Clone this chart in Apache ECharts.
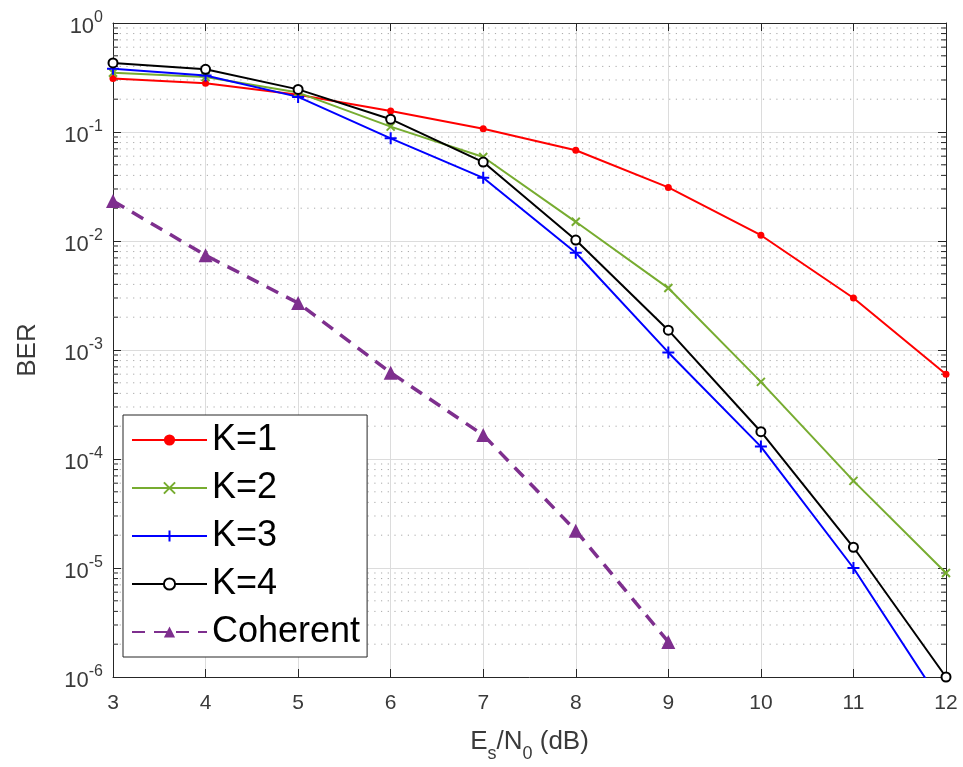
<!DOCTYPE html>
<html>
<head>
<meta charset="utf-8">
<script src="https://cdn.jsdelivr.net/npm/echarts@6/dist/echarts.min.js"></script>
<style>html,body{margin:0;padding:0;background:#fff}#c{width:963px;height:767px}</style>
</head>
<body>
<div id="c"></div>
<script>
// ---- data ----
const xValues = [3, 4, 5, 6, 7, 8, 9, 10, 11, 12];
const berK1 = [0.31, 0.28, 0.22, 0.156, 0.107, 0.068, 0.031, 0.0113, 0.0030, 6.0e-4];
const berK2 = [0.35, 0.32, 0.23, 0.112, 0.059, 0.015, 0.0037, 5.1e-4, 6.3e-5, 9.0e-6];
const berK3 = [0.38, 0.33, 0.21, 0.0875, 0.038, 0.0078, 9.5e-4, 1.3e-4, 1.0e-5, 5.0e-7];
const berK4 = [0.43, 0.376, 0.246, 0.131, 0.053, 0.0102, 1.52e-3, 1.78e-4, 1.55e-5, 1.0e-6];
const coherentX = [3, 4, 5, 6, 7, 8, 9];
const berCoherent = [0.0233, 0.0074, 0.0027, 6.2e-4, 1.66e-4, 2.2e-5, 2.1e-6];
const seriesNames = ['K=1', 'K=2', 'K=3', 'K=4', 'Coherent'];
const xTicks = [3, 4, 5, 6, 7, 8, 9, 10, 11, 12];
const yDecadeExponents = [-6, -5, -4, -3, -2, -1, 0];

// minor grid positions (2..9 x 10^n)
const minorVals = [];
for (let i = 0; i < yDecadeExponents.length - 1; i++) {
  for (let m = 2; m <= 9; m++) minorVals.push([m * Math.pow(10, yDecadeExponents[i])]);
}

function pairs(xs, ys) { return xs.map((x, i) => [x, ys[i]]); }

const AX = '#262626';
const LBL = '#3a3a3a';
const FONT = '"Liberation Sans", Arial, Helvetica, sans-serif';

const chart = echarts.init(document.getElementById('c'), null, { renderer: 'canvas' });

const lineBase = { type: 'line', xAxisIndex: 0, yAxisIndex: 0, clip: true, z: 5 };

const option = {
  backgroundColor: '#fff',
  animation: false,
  textStyle: { fontFamily: FONT },
  grid: { left: 113, right: 17, top: 23, bottom: 90, containLabel: false, outerBoundsMode: 'none' },
  legend: {
    data: seriesNames,
    orient: 'vertical',
    left: 123, top: 415,
    itemWidth: 75, itemHeight: 14, itemGap: 8,
    padding: [5, 7, 5, 8],
    borderColor: AX, borderWidth: 1, backgroundColor: '#fff',
    textStyle: { fontSize: 36, color: '#000', fontFamily: FONT, lineHeight: 40 },
    z: 20
  },
  xAxis: [{
    type: 'value', min: 3, max: 12, interval: 1, position: 'bottom',
    name: '{n|E}{sub|s}{n|/N}{sub|0}{n| (dB)}',
    nameLocation: 'middle', nameGap: 52,
    nameTextStyle: { rich: {
      n: { fontSize: 26, color: LBL, fontFamily: FONT },
      sub: { fontSize: 18, color: LBL, fontFamily: FONT, verticalAlign: 'bottom', padding: [0, 0, -8, 0] }
    } },
    axisLine: { show: true, onZero: false, lineStyle: { color: AX, width: 1 } },
    axisTick: { show: true, inside: true, length: 8, lineStyle: { color: AX } },
    axisLabel: { fontSize: 21, color: LBL, margin: 16, fontFamily: FONT },
    splitLine: { show: true, lineStyle: { color: '#dcdcdc', width: 1 } }
  }, {
    type: 'value', min: 3, max: 12, interval: 1, position: 'top',
    axisLine: { show: true, onZero: false, lineStyle: { color: AX, width: 1 } },
    axisTick: { show: true, inside: true, length: 8, lineStyle: { color: AX } },
    axisLabel: { show: false }, splitLine: { show: false }
  }],
  yAxis: [{
    type: 'log', logBase: 10, min: 1e-6, max: 1, position: 'left',
    name: 'BER', nameLocation: 'middle', nameGap: 72, nameRotate: 90,
    nameTextStyle: { fontSize: 26, color: LBL, fontFamily: FONT },
    axisLine: { show: true, onZero: false, lineStyle: { color: AX, width: 1 } },
    axisTick: { show: true, inside: true, length: 8, lineStyle: { color: AX } },
    axisLabel: {
      margin: 10, color: LBL,
      formatter: v => '{b|10}{s|' + Math.round(Math.log10(v)) + '}',
      rich: {
        b: { fontSize: 22, color: LBL, fontFamily: FONT, padding: [8, 0, 0, 0] },
        s: { fontSize: 16, color: LBL, fontFamily: FONT, padding: [0, 0, 10, 0] }
      }
    },
    splitLine: { show: true, lineStyle: { color: '#dcdcdc', width: 1 } }
  }, {
    type: 'log', logBase: 10, min: 1e-6, max: 1, position: 'right',
    axisLine: { show: true, onZero: false, lineStyle: { color: AX, width: 1 } },
    axisTick: { show: true, inside: true, length: 8, lineStyle: { color: AX } },
    axisLabel: { show: false }, splitLine: { show: false }
  }],
  series: [
    {
      type: 'custom', name: 'minor', silent: true, z: 1, xAxisIndex: 0, yAxisIndex: 0,
      data: minorVals,
      renderItem: function (params, api) {
        const cs = params.coordSys;
        const y = api.coord([3, api.value(0)])[1];
        return {
          type: 'group',
          children: [
            { type: 'line', shape: { x1: cs.x, y1: y, x2: cs.x + cs.width, y2: y },
              style: { stroke: '#a8a8a8', lineWidth: 1, lineDash: [1.2, 5.5] } },
            { type: 'line', shape: { x1: cs.x, y1: y, x2: cs.x + 5, y2: y },
              style: { stroke: AX, lineWidth: 1 } },
            { type: 'line', shape: { x1: cs.x + cs.width - 5, y1: y, x2: cs.x + cs.width, y2: y },
              style: { stroke: AX, lineWidth: 1 } }
          ]
        };
      }
    },
    Object.assign({}, lineBase, {
      name: 'K=1', data: pairs(xValues, berK1),
      symbol: 'circle', symbolSize: 7,
      lineStyle: { color: '#ff0000', width: 2 },
      itemStyle: { color: '#ff0000' }
    }),
    Object.assign({}, lineBase, {
      name: 'K=2', data: pairs(xValues, berK2),
      symbol: 'path://M0,0L10,10M0,10L10,0', symbolSize: 8,
      lineStyle: { color: '#77ac30', width: 2 },
      itemStyle: { color: '#77ac30', borderColor: '#77ac30', borderWidth: 2 }
    }),
    Object.assign({}, lineBase, {
      name: 'K=3', data: pairs(xValues, berK3),
      symbol: 'path://M5,0L5,10M0,5L10,5', symbolSize: 12,
      lineStyle: { color: '#0000ff', width: 2 },
      itemStyle: { color: '#0000ff', borderColor: '#0000ff', borderWidth: 2 }
    }),
    Object.assign({}, lineBase, {
      name: 'K=4', data: pairs(xValues, berK4),
      symbol: 'emptyCircle', symbolSize: 9,
      lineStyle: { color: '#000000', width: 2 },
      itemStyle: { color: '#000000', borderColor: '#000000', borderWidth: 1.5 }
    }),
    Object.assign({}, lineBase, {
      name: 'Coherent', data: pairs(coherentX, berCoherent),
      symbol: 'triangle', symbolSize: 14,
      lineStyle: { color: '#7e2f8e', width: 3.5, type: [13, 9] },
      itemStyle: { color: '#7e2f8e' }
    })
  ]
};
chart.setOption(option);
</script>
</body>
</html>
